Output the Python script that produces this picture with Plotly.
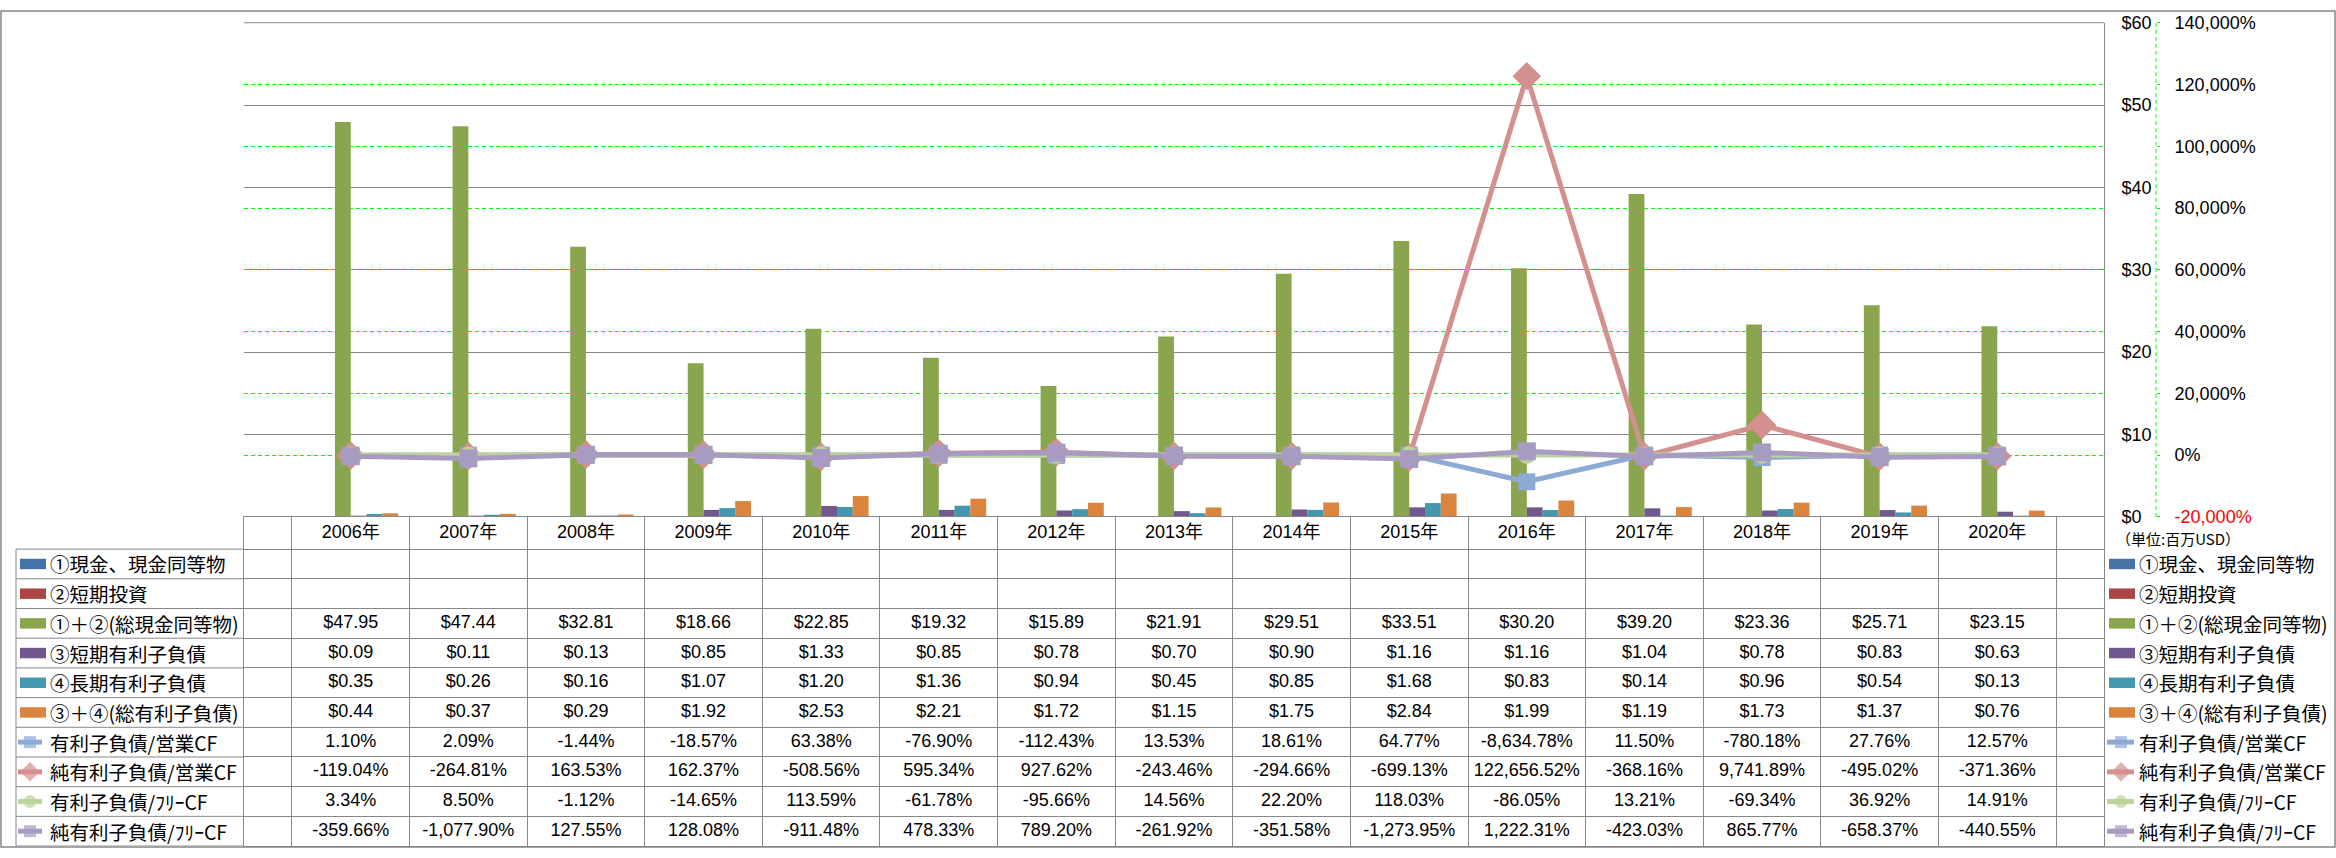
import plotly.graph_objects as go

# ---------------- data ----------------
years = ["2006年", "2007年", "2008年", "2009年", "2010年", "2011年", "2012年", "2013年",
         "2014年", "2015年", "2016年", "2017年", "2018年", "2019年", "2020年"]

cash_eq = [None] * 15          # ①現金、現金同等物 (no data)
short_inv = [None] * 15        # ②短期投資 (no data)
cash_total = [47.95, 47.44, 32.81, 18.66, 22.85, 19.32, 15.89, 21.91, 29.51, 33.51, 30.20, 39.20, 23.36, 25.71, 23.15]
short_debt = [0.09, 0.11, 0.13, 0.85, 1.33, 0.85, 0.78, 0.70, 0.90, 1.16, 1.16, 1.04, 0.78, 0.83, 0.63]
long_debt = [0.35, 0.26, 0.16, 1.07, 1.20, 1.36, 0.94, 0.45, 0.85, 1.68, 0.83, 0.14, 0.96, 0.54, 0.13]
total_debt = [0.44, 0.37, 0.29, 1.92, 2.53, 2.21, 1.72, 1.15, 1.75, 2.84, 1.99, 1.19, 1.73, 1.37, 0.76]
debt_ocf = [1.10, 2.09, -1.44, -18.57, 63.38, -76.90, -112.43, 13.53, 18.61, 64.77, -8634.78, 11.50, -780.18, 27.76, 12.57]
netdebt_ocf = [-119.04, -264.81, 163.53, 162.37, -508.56, 595.34, 927.62, -243.46, -294.66, -699.13, 122656.52, -368.16, 9741.89, -495.02, -371.36]
debt_fcf = [3.34, 8.50, -1.12, -14.65, 113.59, -61.78, -95.66, 14.56, 22.20, 118.03, -86.05, 13.21, -69.34, 36.92, 14.91]
netdebt_fcf = [-359.66, -1077.90, 127.55, 128.08, -911.48, 478.33, 789.20, -261.92, -351.58, -1273.95, 1222.31, -423.03, 865.77, -658.37, -440.55]

bar_names = ["①現金、現金同等物", "②短期投資", "①＋②(総現金同等物)", "③短期有利子負債", "④長期有利子負債", "③＋④(総有利子負債)"]
line_names = ["有利子負債/営業CF", "純有利子負債/営業CF", "有利子負債/ﾌﾘｰCF", "純有利子負債/ﾌﾘｰCF"]
bar_values = [cash_eq, short_inv, cash_total, short_debt, long_debt, total_debt]
line_values = [debt_ocf, netdebt_ocf, debt_fcf, netdebt_fcf]

usd_ticks = [0, 10, 20, 30, 40, 50, 60]
pct_ticks = [-20000, 0, 20000, 40000, 60000, 80000, 100000, 120000, 140000]
unit_label = "（単位:百万USD）"

# ---------------- styles ----------------
W, H = 2336, 858
bar_colors = ["#4572A7", "#AA4643", "#89A54E", "#71588F", "#4198AF", "#DB843D"]
line_colors = ["#8DA9D5", "#D4908F", "#BCD49C", "#A89BC2"]
line_symbols = ["square", "diamond", "circle", "square"]
line_msize = [17, 22, 17, 18]
key_msize = [12, 15, 13, 12]
GRAY = "#878787"
LIME = "#00FF00"
LAT = "Liberation Sans, Noto Sans CJK JP, sans-serif"
JP = "Noto Sans CJK JP, sans-serif"

# pixel layout helpers
PL, PR, PT, PB = 244, 2104, 13, 519   # plot area
TB = 856                              # table bottom
HDR = 33                              # header row height
ROW = 30.4                            # row height
hdr_units = HDR / ROW
y2_top = -0.5 - hdr_units
y2_range = [9.5, y2_top]
hdr_center = -0.5 - hdr_units / 2

def fx(px):
    return px / W

def fy(py):
    return (H - py) / H

fig = go.Figure()

# ---------------- bars (primary axis) ----------------
for name, vals, col in zip(bar_names, bar_values, bar_colors):
    fig.add_trace(go.Bar(x=years, y=vals, name=name, marker=dict(color=col, line=dict(width=0)),
                         xaxis="x", yaxis="y", showlegend=False))

# ---------------- lines (secondary axis) ----------------
for name, vals, col, sym, ms in zip(line_names, line_values, line_colors, line_symbols, line_msize):
    fig.add_trace(go.Scatter(x=years, y=vals, name=name, mode="lines+markers",
                             line=dict(color=col, width=5),
                             marker=dict(symbol=sym, size=ms, color=col, line=dict(width=0)),
                             xaxis="x", yaxis="y4", showlegend=False))

# ---------------- data table ----------------
fig.add_trace(go.Scatter(x=years, y=[hdr_center] * len(years), text=years, mode="text",
                         textfont=dict(family=LAT, size=18, color="black"),
                         xaxis="x2", yaxis="y2", showlegend=False, hoverinfo="skip"))

rows = bar_values + line_values
for r, vals in enumerate(rows):
    if r < 6:
        txt = ["" if v is None else f"${v:,.2f}" for v in vals]
    else:
        txt = [f"{v:,.2f}%" for v in vals]
    fig.add_trace(go.Scatter(x=years, y=[r] * len(years), text=txt, mode="text",
                             textfont=dict(family=LAT, size=18, color="black"),
                             xaxis="x2", yaxis="y2", showlegend=False, hoverinfo="skip"))

# ---------------- legend keys (left column and right legend) ----------------
shapes = []
annotations = []
all_names = bar_names + line_names
for r in range(10):
    for (bx0, bx1, lx0, lc, lx1, tx) in [(20, 46, 18, 30, 42, 48), (2109, 2135, 2107, 2121, 2134, 2137)]:
        if r < 6:
            shapes.append(dict(type="rect", xref="x3", yref="y3", x0=bx0, x1=bx1,
                               y0=r - 0.176, y1=r + 0.176, fillcolor=bar_colors[r], line=dict(width=0)))
        else:
            k = r - 6
            fig.add_trace(go.Scatter(x=[lx0, lc, lx1], y=[r, r, r], mode="lines+markers",
                                     line=dict(color=line_colors[k], width=5),
                                     marker=dict(symbol=line_symbols[k], size=[0, key_msize[k], 0],
                                                 color=line_colors[k], line=dict(width=0)),
                                     xaxis="x3", yaxis="y3", showlegend=False, hoverinfo="skip"))
        annotations.append(dict(xref="x3", yref="y3", x=tx, y=r, text=all_names[r], showarrow=False,
                                xanchor="left", yanchor="middle",
                                font=dict(family=JP, size=19.5, color="black")))

annotations.append(dict(xref="x3", yref="y3", x=2114, y=hdr_center + 0.2, text=unit_label, showarrow=False,
                        xanchor="left", yanchor="middle", font=dict(family=JP, size=15, color="black")))

# left column grid lines of the table
for b in [r - 0.5 for r in range(11)]:
    shapes.append(dict(type="line", xref="x3", yref="y2", x0=16, x1=PL, y0=b, y1=b,
                       line=dict(color=GRAY, width=1)))
shapes.append(dict(type="line", xref="x3", yref="y2", x0=16, x1=16, y0=-0.5, y1=9.5,
                   line=dict(color=GRAY, width=1)))
# top edge of plot area
shapes.append(dict(type="line", xref="paper", yref="paper", x0=fx(PL), x1=fx(PR), y0=fy(PT), y1=fy(PT),
                   line=dict(color=GRAY, width=1)))
# secondary axis dashed line
shapes.append(dict(type="line", xref="paper", yref="paper", x0=fx(2156), x1=fx(2156), y0=fy(PB), y1=fy(PT),
                   line=dict(color=LIME, width=1, dash="4px,3px")))
# outer chart border
shapes.append(dict(type="rect", xref="paper", yref="paper", x0=fx(1), x1=fx(2335), y0=fy(857), y1=fy(1),
                   line=dict(color=GRAY, width=1.5), fillcolor="rgba(0,0,0,0)"))

usd_text = [f"${v}" for v in usd_ticks]
pct_text = [(f'<span style="color:red">{v:,}%</span>' if v < 0 else f"{v:,}%") for v in pct_ticks]

fig.update_layout(
    width=W, height=H,
    margin=dict(l=0, r=0, t=0, b=0),
    paper_bgcolor="white", plot_bgcolor="rgba(0,0,0,0)",
    barmode="group", bargap=0.194, bargroupgap=0,
    showlegend=False,
    xaxis=dict(domain=[fx(PL), fx(PR)], anchor="y", type="category", showticklabels=False,
               showgrid=False, showline=False, zeroline=False, ticks=""),
    yaxis=dict(domain=[fy(PB), fy(PT)], anchor="x", side="right", range=[0, 60],
               tickmode="array", tickvals=usd_ticks, ticktext=usd_text,
               showgrid=True, gridcolor=GRAY, gridwidth=1, zeroline=False,
               showline=True, linecolor=GRAY, linewidth=1, ticks="",
               ticklabelstandoff=13, tickfont=dict(family=LAT, size=18, color="black")),
    yaxis4=dict(overlaying="y", anchor="free", position=fx(2156), side="right",
                range=[-20000, 140000], tickmode="array", tickvals=pct_ticks, ticktext=pct_text,
                showgrid=True, gridcolor=LIME, gridwidth=1, griddash="4px,3px", zeroline=False,
                showline=False, ticks="outside", ticklen=3, tickcolor=LIME, tickwidth=1,
                ticklabelstandoff=11, tickfont=dict(family=LAT, size=18, color="black")),
    xaxis2=dict(domain=[fx(PL), fx(PR)], anchor="y2", type="category", matches="x",
                tickson="boundaries", showgrid=True, gridcolor=GRAY, gridwidth=1,
                showticklabels=False, ticks="", showline=True, mirror=True, linecolor=GRAY,
                zeroline=False),
    yaxis2=dict(domain=[fy(TB), fy(PB)], anchor="x2", range=y2_range,
                tickmode="array", tickvals=[r - 0.5 for r in range(10)],
                showgrid=True, gridcolor=GRAY, gridwidth=1, showticklabels=False, ticks="",
                showline=True, mirror=True, linecolor=GRAY, zeroline=False),
    xaxis3=dict(domain=[0, 1], anchor="y3", range=[0, W], visible=False, fixedrange=True),
    yaxis3=dict(domain=[fy(TB), fy(PB)], anchor="x3", range=y2_range, visible=False, fixedrange=True),
    shapes=shapes,
    annotations=annotations,
)

fig.write_html("out.html", config={"displayModeBar": False},
               post_script="document.body.style.margin='0';document.body.style.overflow='hidden';")
